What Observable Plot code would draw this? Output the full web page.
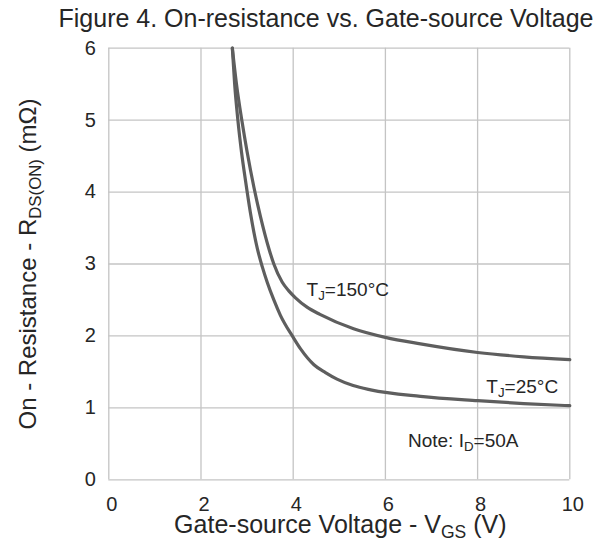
<!DOCTYPE html>
<html>
<head>
<meta charset="utf-8">
<script src="https://cdn.jsdelivr.net/npm/d3@7"></script>
<script src="https://cdn.jsdelivr.net/npm/@observablehq/plot@0.6"></script>
<style>
  html, body { margin: 0; padding: 0; background: #fff; }
</style>
</head>
<body>
<div id="chart"></div>
<script>
// ---- data ----
const vgs25  = [2.68, 2.73, 2.80, 2.88, 2.965, 3.07, 3.22, 3.33, 3.44, 3.58, 3.72, 4.0, 4.16, 4.45, 4.7, 4.95, 5.3, 5.68, 6.76, 8.0, 9.0, 10.0];
const rds25  = [6.0, 5.5, 5.0, 4.55, 4.16, 3.72, 3.22, 2.96, 2.74, 2.50, 2.29, 1.98, 1.82, 1.60, 1.49, 1.40, 1.31, 1.25, 1.16, 1.10, 1.06, 1.03];
const vgs150 = [2.68, 2.77, 2.89, 3.0, 3.15, 3.29, 3.47, 3.58, 3.76, 3.9, 4.05, 4.3, 4.58, 5.31, 6.0, 6.76, 8.0, 9.0, 10.0];
const rds150 = [6.0, 5.5, 4.98, 4.56, 4.06, 3.66, 3.22, 3.00, 2.75, 2.63, 2.53, 2.40, 2.30, 2.10, 1.98, 1.89, 1.77, 1.71, 1.67];

const xTicks = [0, 2, 4, 6, 8, 10];
const yTicks = [0, 1, 2, 3, 4, 5, 6];

const annoX    = [4.29, 8.19, 6.49];
const annoY    = [2.56, 1.204, 0.453];
const annoText = ["T{J}=150°C", "T{J}=25°C", "Note: I{D}=50A"];

const titleText = "Figure 4. On-resistance vs. Gate-source Voltage";
const xLabel = "Gate-source Voltage - V{GS} (V)";
const yLabel = "On - Resistance - R{DS(ON)} (mΩ)";

// ---- tables built from the arrays ----
const series = [
  ...vgs25.map((v, i) => ({ vgs: v, rds: rds25[i], tj: "25" })),
  ...vgs150.map((v, i) => ({ vgs: v, rds: rds150[i], tj: "150" }))
];
const annos = annoText.map((t, i) => ({ x: annoX[i], y: annoY[i], text: t }));

const ink = "#262626";
const gridColor = "#c4c4c4";

const plot = Plot.plot({
  width: 610,
  height: 542,
  marginLeft: 108.3,
  marginRight: 40.7,
  marginTop: 47.7,
  marginBottom: 62.7,
  style: { fontFamily: "'Liberation Sans', Arial, sans-serif", color: ink, background: "#fff" },
  x: { domain: [0, 10] },
  y: { domain: [0, 6] },
  marks: [
    Plot.gridX(xTicks, { stroke: gridColor, strokeOpacity: 1, strokeWidth: 1.3 }),
    Plot.gridY(yTicks, { stroke: gridColor, strokeOpacity: 1, strokeWidth: 1.3 }),
    Plot.axisX(xTicks, { tickSize: 0, tickPadding: 17, fontSize: 20, dx: 3, label: null, fill: ink, tickFormat: d => String(d) }),
    Plot.axisY(yTicks, { tickSize: 0, tickPadding: 13, fontSize: 20, label: null, fill: ink, tickFormat: d => String(d) }),
    Plot.line(series, {
      x: "vgs", y: "rds", z: "tj",
      stroke: "#5e5e5e", strokeWidth: 3.2, curve: "monotone-x"
    }),
    Plot.text(annos, {
      x: "x", y: "y", text: "text",
      textAnchor: "start", lineAnchor: "bottom", fontSize: 19, fill: ink
    }),
    Plot.text([xLabel], {
      text: d => d, frameAnchor: "bottom", dy: 53, dx: 1,
      textAnchor: "middle", lineAnchor: "bottom", fontSize: 25, fill: ink
    }),
    Plot.text([yLabel], {
      text: d => d, frameAnchor: "left", rotate: -90, dx: -73.3,
      textAnchor: "middle", lineAnchor: "bottom", fontSize: 24, fill: ink
    }),
    Plot.text([titleText], {
      text: d => d, frameAnchor: "top", dx: -13.3, dy: -21,
      textAnchor: "middle", lineAnchor: "bottom", fontSize: 25, fill: ink
    })
  ]
});

document.getElementById("chart").appendChild(plot);

// turn {…} segments into subscripts
plot.querySelectorAll("text").forEach(t => {
  const s = t.textContent;
  if (!s.includes("{")) return;
  const fs = parseFloat(getComputedStyle(t).fontSize) || 16;
  const shift = fs * 0.22;
  t.textContent = "";
  const parts = s.split(/(\{[^}]*\})/).filter(p => p.length);
  let lowered = false;
  parts.forEach(p => {
    const ts = document.createElementNS("http://www.w3.org/2000/svg", "tspan");
    if (p.startsWith("{")) {
      ts.textContent = p.slice(1, -1);
      ts.setAttribute("font-size", (fs * 0.7).toFixed(1));
      ts.setAttribute("dy", shift.toFixed(1));
      lowered = true;
    } else {
      ts.textContent = p;
      if (lowered) { ts.setAttribute("dy", (-shift).toFixed(1)); lowered = false; }
    }
    t.appendChild(ts);
  });
});
</script>
</body>
</html>
